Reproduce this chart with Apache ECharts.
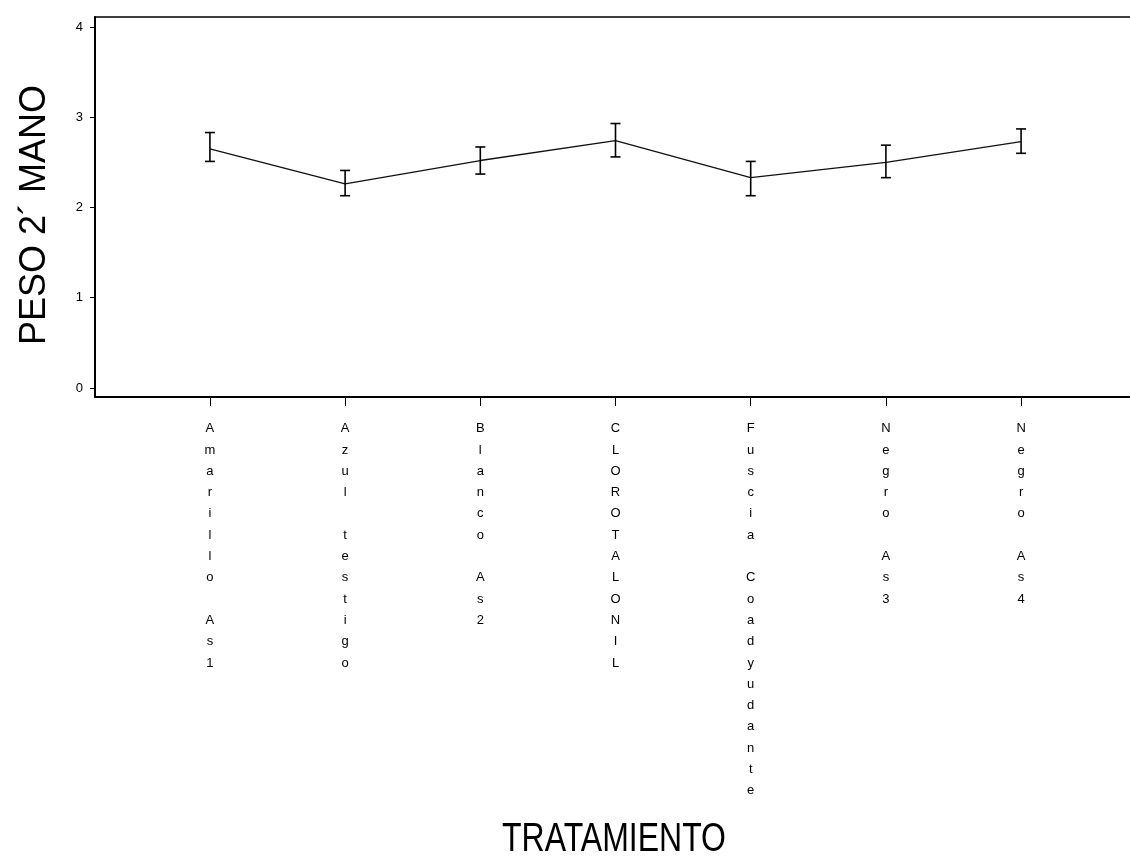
<!DOCTYPE html>
<html>
<head>
<meta charset="utf-8">
<script src="https://cdn.jsdelivr.net/npm/echarts@6/dist/echarts.min.js"></script>
<style>
  html, body { margin: 0; padding: 0; background: #fff; }
  #chart { width: 1130px; height: 857px; }
</style>
</head>
<body>
<div id="chart"></div>
<script>
// Treatments and the mean weight of the second hand with its interval
const categories = ['Amarillo As1', 'Azul testigo', 'Blanco As2', 'CLOROTALONIL', 'Fuscia Coadyudante', 'Negro As3', 'Negro As4'];
const means = [2.65, 2.26, 2.52, 2.74, 2.33, 2.50, 2.73];
const lower = [2.51, 2.13, 2.37, 2.56, 2.13, 2.33, 2.60];
const upper = [2.83, 2.41, 2.67, 2.93, 2.51, 2.69, 2.87];
const yTicks = [0, 1, 2, 3, 4];
const xTitle = 'TRATAMIENTO';
const yTitle = 'PESO 2´ MANO';

const positions = categories.map((_, i) => i + 1);
const lineData = means.map((m, i) => [positions[i], m]);
const barData = means.map((_, i) => [positions[i], lower[i], upper[i]]);

// Stack each label letter by letter
const vertical = s => s.split('').join('\n');

const chart = echarts.init(document.getElementById('chart'));
chart.setOption({
  animation: false,
  backgroundColor: '#fff',
  textStyle: { fontFamily: 'Liberation Sans, Arial, sans-serif', color: '#000' },
  grid: {
    left: 95, right: -6, top: 17, bottom: 460,
    outerBoundsMode: 'none',
    containLabel: false
  },
  xAxis: [
    {
      type: 'value',
      min: 0.15, max: 7.85,
      splitLine: { show: false },
      axisLine: { show: true, onZero: false, lineStyle: { color: '#000', width: 2 } },
      axisTick: { show: true, customValues: positions, length: 9, lineStyle: { color: '#000', width: 1 } },
      axisLabel: {
        customValues: positions,
        margin: 21,
        fontSize: 13,
        lineHeight: 21.3,
        color: '#000',
        verticalAlign: 'top',
        formatter: v => vertical(categories[Math.round(v) - 1] || '')
      }
    },
    {
      // plain frame line along the top of the plot
      type: 'value',
      position: 'top',
      min: 0.15, max: 7.85,
      splitLine: { show: false },
      axisLine: { show: true, onZero: false, lineStyle: { color: '#000', width: 1.5 } },
      axisTick: { show: false },
      axisLabel: { show: false }
    }
  ],
  yAxis: {
    type: 'value',
    min: -0.1, max: 4.11,
    splitLine: { show: false },
    axisLine: { show: true, onZero: false, lineStyle: { color: '#000', width: 2 } },
    axisTick: { show: true, customValues: yTicks, length: 5, lineStyle: { color: '#000', width: 1 } },
    axisLabel: { customValues: yTicks, margin: 12, fontSize: 13, color: '#000' }
  },
  graphic: [
    {
      type: 'text',
      x: 614, y: 840,
      scaleX: 0.8,
      style: { text: xTitle, font: '40px "Liberation Sans", Arial, sans-serif', fill: '#000', align: 'center', verticalAlign: 'middle' }
    },
    {
      type: 'text',
      x: 35, y: 215,
      rotation: Math.PI / 2,
      style: { text: yTitle, font: '36px "Liberation Sans", Arial, sans-serif', fill: '#000', align: 'center', verticalAlign: 'middle' }
    }
  ],
  series: [
    {
      type: 'line',
      data: lineData,
      symbol: 'none',
      lineStyle: { color: '#111', width: 1.3 },
      z: 3
    },
    {
      type: 'custom',
      data: barData,
      z: 4,
      renderItem: (params, api) => {
        const x = api.value(0);
        const lo = api.coord([x, api.value(1)]);
        const hi = api.coord([x, api.value(2)]);
        const half = 5;
        const style = { stroke: '#000', lineWidth: 1.6, fill: null };
        return {
          type: 'group',
          children: [
            { type: 'line', shape: { x1: lo[0], y1: lo[1], x2: hi[0], y2: hi[1] }, style },
            { type: 'line', shape: { x1: hi[0] - half, y1: hi[1], x2: hi[0] + half, y2: hi[1] }, style },
            { type: 'line', shape: { x1: lo[0] - half, y1: lo[1], x2: lo[0] + half, y2: lo[1] }, style }
          ]
        };
      }
    }
  ]
});
</script>
</body>
</html>
